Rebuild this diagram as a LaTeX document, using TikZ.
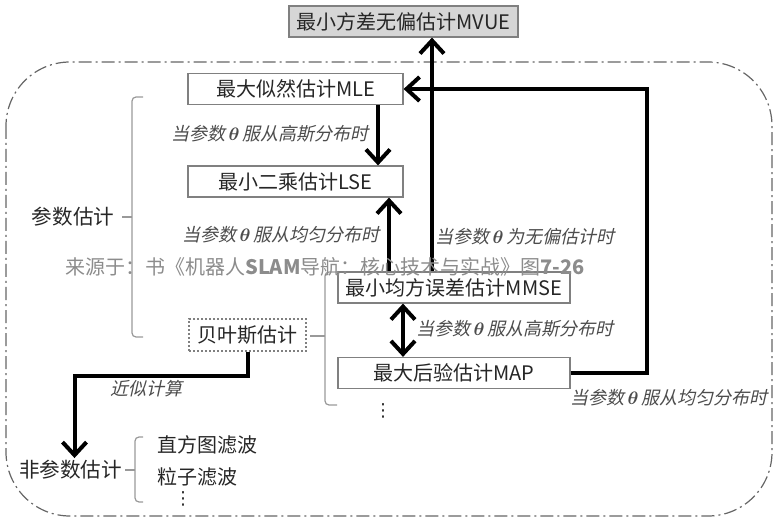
\documentclass[tikz,border=0pt]{standalone}
\usepackage{fontspec}
\usepackage{amsmath}
\usepackage{xcolor}
\setmainfont{Noto Sans CJK SC}
\newfontfamily\condfont[FakeSlant=0.22]{Noto Sans CJK SC}
\newfontfamily\symfont{DejaVu Sans}
\usetikzlibrary{calc}
\usetikzlibrary{positioning}
\usetikzlibrary{arrows.meta}
\definecolor{boxgray}{gray}{0.5}
\definecolor{textgray}{gray}{0.15}
\definecolor{condgray}{gray}{0.3}
\definecolor{bracegray}{gray}{0.6}
\definecolor{mvuefill}{gray}{0.84}
\definecolor{srcgray}{gray}{0.55}
\def\thickness{heavy}
\tikzset{
heavy/.style={line width=2pt},
estbox/.style 2 args={
	draw=boxgray, line width=0.6pt, fill=#2,
	minimum width=#1, minimum height=15.5pt, inner sep=0pt,
	text=textgray, font=\fontsize{10}{12}\selectfont
},
bayesbox/.style={draw=boxgray, line width=0.6pt, dash pattern=on 1pt off 1pt,
	minimum width=58.5pt, minimum height=16pt, inner sep=0pt,
	text=textgray, font=\fontsize{10}{12}\selectfont},
grouplabel/.style={inner sep=1pt, text=textgray, font=\fontsize{10.3}{12}\selectfont},
itemlabel/.style={inner sep=0pt, text=textgray, font=\fontsize{10}{12}\selectfont},
dotlabel/.style={inner sep=0pt, text=textgray, font=\symfont\fontsize{9}{10}\selectfont},
cond/.style={inner sep=0pt, text=condgray, font=\condfont\fontsize{9}{11}\selectfont},
srcnote/.style={inner sep=0pt, text=srcgray, font=\fontsize{10}{12}\selectfont},
flow/.style={\thickness, -{Straight Barb[length=6.5pt,width=12pt]}},
bothflow/.style={\thickness, {Straight Barb[length=6.5pt,width=12pt]}-{Straight Barb[length=6.5pt,width=12pt]}},
brace/.style={draw=bracegray, line width=0.6pt, rounded corners=2pt},
frame/.style={draw=gray!80!black, line width=0.6pt, rounded corners=32pt,
	dash pattern=on 6.5pt off 2pt on 1pt off 2pt},
}

\begin{document}
\begin{tikzpicture}[x=0.5pt, y=-0.5pt]
\useasboundingbox (0,0) rectangle (776,518);
%Place the nodes
\node[estbox={114.5pt}{mvuefill}] (mvue) at (403.5,21.5) {最小方差无偏估计MVUE};
\node[estbox={107.5pt}{white}] (mle) at (295.5,89) {最大似然估计MLE};
\node[estbox={107.5pt}{white}, below of=mle, node distance=46.25pt] (lse) {最小二乘估计LSE};
\node[estbox={116pt}{white}] (mmse) at (454,287.5) {最小均方误差估计MMSE};
\node[estbox={116pt}{white}, below of=mmse, node distance=42.75pt] (map) {最大后验估计MAP};
\node[bayesbox] (bayes) at (247.5,335) {贝叶斯估计};

\node[grouplabel] (par) at (73,217) {参数估计};
\node[grouplabel] (np) at (70.5,470) {非参数估计};
\node[itemlabel, anchor=west] (hist) at (157,445) {直方图滤波};
\node[itemlabel, anchor=west] (pf) at (157,477) {粒子滤波};
\node[dotlabel] (npdots) at (183,499) {⋮};
\node[dotlabel] (bdots) at (383,411) {⋮};

%
\node[cond] (gauss1) at (270,134) {当参数\,$\boldsymbol{\theta}$\,服从高斯分布时};
\node[cond] (unif1) at (281,235) {当参数\,$\boldsymbol{\theta}$\,服从均匀分布时};
\node[cond] (unbiased) at (525,237) {当参数\,$\boldsymbol{\theta}$\,为无偏估计时};
\node[cond] (gauss2) at (515,329) {当参数\,$\boldsymbol{\theta}$\,服从高斯分布时};
\node[cond] (unif2) at (669,398) {当参数\,$\boldsymbol{\theta}$\,服从均匀分布时};
\node[cond] (approx) at (146,389) {近似计算};

%
\draw[frame] (6,62) rectangle (772,516);

%
\coordinate (lane1) at (378,0);
\coordinate (lane2) at (389,0);
\coordinate (lane3) at (432,0);
\coordinate (lane4) at (403,0);
\coordinate (turn) at (647,0);

\draw[flow] (lane1 |- mle.south) -- (lane1 |- lse.north);
\draw[flow] (lane2 |- mmse.north) -- (lane2 |- lse.south);
\draw[flow] (lane3 |- mmse.north) -- (lane3 |- mvue.south);
\draw[bothflow] (lane4 |- mmse.south) -- (lane4 |- map.north);
\draw[flow] (map.east) -- (turn |- map.east) -- (turn |- mle.east) -- (mle.east);
\draw[flow] (bayes.south) -- ++(0,24) -| ([xshift=2pt]np.north);

%
\draw[brace] (143,97) -- (132,97) -- (132,337) -- (143,337);
\draw[brace] (132,217) -- (122,217);
\draw[brace] (338,272) -- (325,272) -- (325,405) -- (337,405);
\draw[brace] (325,336) -- (310,336);
\draw[brace] (143,437) -- (135,437) -- (135,502) -- (143,502);
\draw[brace] (135,470) -- (125,470);

\node[srcnote, anchor=west] (src) at (65,267) {来源于：书《机器人\textbf{SLAM}导航：核心技术与实战》图\textbf{7-26}};

\end{tikzpicture}
\end{document}
